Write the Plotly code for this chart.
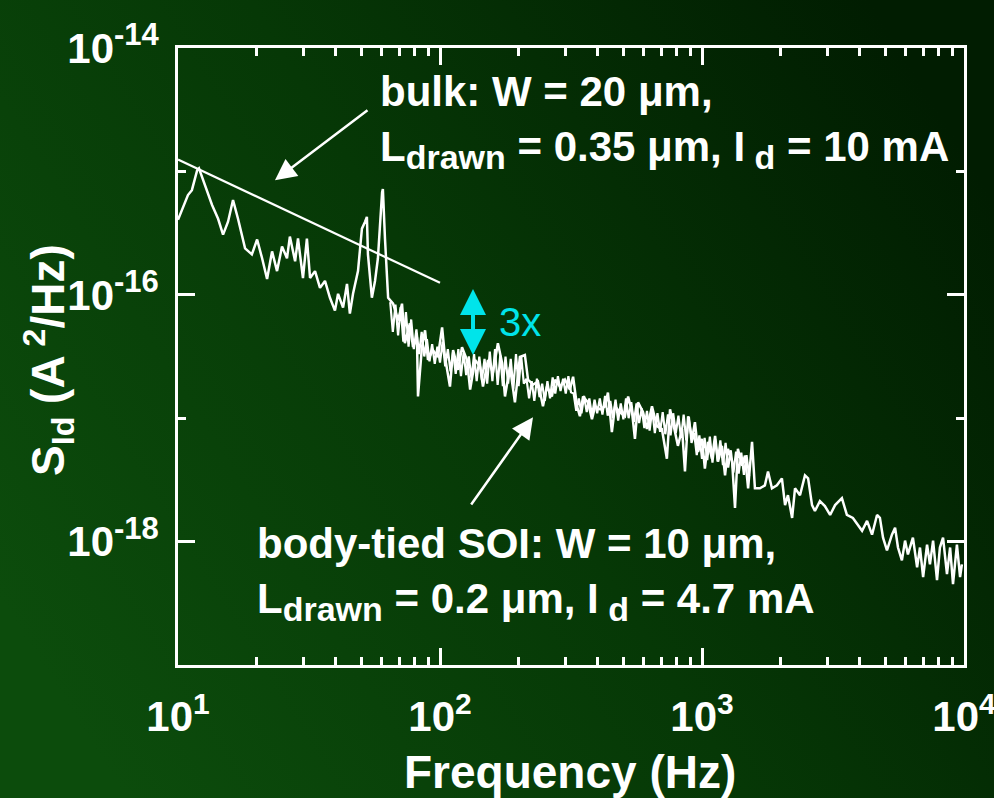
import base64
import plotly.graph_objects as go

# ---- data (log10 of frequency in Hz, log10 of S_Id in A^2/Hz) ----
# outline of the measured spectrum (incl. peaks and dips)
log_freq_hz = [
    1.000, 1.038, 1.053, 1.073, 1.080, 1.103, 1.130, 1.153, 1.172, 1.191,
    1.210, 1.229, 1.256, 1.282, 1.302, 1.321, 1.340, 1.359, 1.378, 1.397,
    1.416, 1.427, 1.447, 1.458, 1.477, 1.492, 1.504, 1.523, 1.542, 1.561,
    1.580, 1.599, 1.611, 1.630, 1.645, 1.656, 1.668, 1.687, 1.702, 1.714,
    1.721, 1.725, 1.740, 1.752, 1.763, 1.779, 1.782, 1.790, 1.802, 1.821,
    1.840, 1.855, 1.866, 1.885, 1.897, 1.912, 1.916, 1.931, 1.943, 1.954,
    1.973, 1.992, 2.008, 2.019, 2.038, 2.050, 2.069, 2.084, 2.103, 2.115,
    2.134, 2.153, 2.164, 2.183, 2.202, 2.221, 2.237, 2.248, 2.267, 2.286,
    2.305, 2.324, 2.336, 2.355, 2.374, 2.393, 2.408, 2.427, 2.439, 2.458,
    2.477, 2.496, 2.508, 2.523, 2.534, 2.546, 2.565, 2.580, 2.592, 2.611,
    2.630, 2.641, 2.656, 2.668, 2.687, 2.706, 2.718, 2.733, 2.744, 2.756,
    2.775, 2.790, 2.809, 2.828, 2.847, 2.866, 2.878, 2.897, 2.908, 2.924,
    2.935, 2.947, 2.962, 2.973, 2.985, 3.000, 3.011, 3.023, 3.038, 3.050,
    3.061, 3.076, 3.088, 3.099, 3.115, 3.126, 3.137, 3.153, 3.164, 3.176,
    3.191, 3.202, 3.221, 3.240, 3.252, 3.267, 3.286, 3.305, 3.317, 3.328,
    3.344, 3.355, 3.374, 3.393, 3.405, 3.420, 3.431, 3.450, 3.469, 3.489,
    3.508, 3.534, 3.553, 3.576, 3.595, 3.611, 3.630, 3.649, 3.668, 3.679,
    3.691, 3.706, 3.725, 3.737, 3.748, 3.763, 3.775, 3.786, 3.805, 3.821,
    3.832, 3.844, 3.859, 3.870, 3.882, 3.897, 3.908, 3.920, 3.935, 3.947,
    3.958, 3.973, 3.985, 3.992,
]
log_sid = [
    -15.392, -15.192, -15.152, -14.992, -14.976, -15.112, -15.272, -15.384, -15.512, -15.408,
    -15.232, -15.384, -15.624, -15.672, -15.552, -15.704, -15.872, -15.648, -15.808, -15.608,
    -15.704, -15.528, -15.728, -15.544, -15.864, -15.544, -15.864, -15.808, -15.944, -15.888,
    -16.024, -16.128, -15.992, -16.104, -15.912, -16.152, -15.992, -15.808, -15.464, -15.408,
    -15.368, -15.672, -16.024, -15.888, -15.704, -15.168, -15.144, -15.544, -16.024, -16.072,
    -16.208, -16.072, -16.392, -16.232, -16.424, -16.344, -16.824, -16.424, -16.288, -16.528,
    -16.448, -16.504, -16.264, -16.504, -16.744, -16.448, -16.608, -16.424, -16.528, -16.768,
    -16.528, -16.584, -16.744, -16.528, -16.632, -16.392, -16.552, -16.824, -16.584, -16.872,
    -16.504, -16.488, -16.688, -16.728, -16.704, -16.904, -16.744, -16.824, -16.688, -16.744,
    -16.688, -16.768, -16.664, -16.904, -16.984, -16.824, -16.872, -17.008, -16.904, -16.928,
    -16.904, -16.792, -17.112, -16.904, -16.952, -16.984, -16.824, -16.952, -17.168, -16.872,
    -16.952, -17.088, -16.904, -17.064, -17.088, -17.328, -16.928, -17.112, -17.224, -17.088,
    -17.432, -16.984, -17.168, -17.032, -17.272, -17.168, -17.408, -17.192, -17.328, -17.144,
    -17.352, -17.224, -17.464, -17.248, -17.352, -17.728, -17.248, -17.384, -17.304, -17.568,
    -17.192, -17.568, -17.568, -17.544, -17.432, -17.568, -17.544, -17.488, -17.704, -17.624,
    -17.808, -17.568, -17.624, -17.464, -17.488, -17.704, -17.752, -17.672, -17.712, -17.784,
    -17.704, -17.648, -17.784, -17.808, -17.864, -17.912, -17.832, -17.944, -17.784, -17.808,
    -17.968, -18.072, -17.944, -17.888, -18.048, -18.152, -17.992, -18.104, -17.968, -18.208,
    -18.048, -18.288, -18.024, -18.184, -17.992, -18.312, -18.048, -17.968, -18.264, -18.048,
    -18.344, -18.024, -18.288, -18.184,
]
# densely sampled part of the spectrum (65 Hz - 1.5 kHz), read as the upper/lower
# excursions of the dense noise band
band_log_freq_hz = [
    1.81, 1.82, 1.83, 1.84, 1.85, 1.86, 1.87, 1.88, 1.89, 1.90,
    1.91, 1.92, 1.93, 1.94, 1.95, 1.96, 1.97, 1.98, 1.99, 2.00,
    2.01, 2.02, 2.03, 2.04, 2.05, 2.06, 2.07, 2.08, 2.09, 2.10,
    2.11, 2.12, 2.13, 2.14, 2.15, 2.16, 2.17, 2.18, 2.19, 2.20,
    2.21, 2.22, 2.23, 2.24, 2.25, 2.26, 2.27, 2.28, 2.29, 2.30,
    2.31, 2.32, 2.33, 2.34, 2.35, 2.36, 2.37, 2.38, 2.39, 2.40,
    2.41, 2.42, 2.43, 2.44, 2.45, 2.46, 2.47, 2.48, 2.49, 2.50,
    2.51, 2.52, 2.53, 2.54, 2.55, 2.56, 2.57, 2.58, 2.59, 2.60,
    2.61, 2.62, 2.63, 2.64, 2.65, 2.66, 2.67, 2.68, 2.69, 2.70,
    2.71, 2.72, 2.73, 2.74, 2.75, 2.76, 2.77, 2.78, 2.79, 2.80,
    2.81, 2.82, 2.83, 2.84, 2.85, 2.86, 2.87, 2.88, 2.89, 2.90,
    2.91, 2.92, 2.93, 2.94, 2.95, 2.96, 2.97, 2.98, 2.99, 3.00,
    3.01, 3.02, 3.03, 3.04, 3.05, 3.06, 3.07, 3.08, 3.09, 3.10,
    3.11, 3.12, 3.13, 3.14, 3.15, 3.16, 3.17, 3.18,
]
band_log_sid = [
    -16.06, -16.30, -16.08, -16.33, -16.10, -16.38, -16.14, -16.42, -16.20, -16.44,
    -16.28, -16.48, -16.30, -16.50, -16.36, -16.54, -16.40, -16.56, -16.42, -16.55,
    -16.38, -16.58, -16.44, -16.62, -16.46, -16.64, -16.44, -16.66, -16.47, -16.65,
    -16.50, -16.68, -16.48, -16.70, -16.50, -16.69, -16.52, -16.72, -16.46, -16.70,
    -16.44, -16.73, -16.49, -16.74, -16.50, -16.72, -16.52, -16.76, -16.48, -16.74,
    -16.50, -16.72, -16.68, -16.84, -16.70, -16.86, -16.68, -16.83, -16.72, -16.86,
    -16.70, -16.84, -16.67, -16.80, -16.66, -16.78, -16.68, -16.80, -16.66, -16.79,
    -16.80, -16.94, -16.84, -16.96, -16.82, -16.95, -16.84, -16.98, -16.85, -16.96,
    -16.84, -16.97, -16.82, -16.98, -16.86, -17.00, -16.85, -17.02, -16.88, -17.01,
    -16.84, -17.00, -16.87, -17.03, -16.88, -17.04, -16.92, -17.08, -16.94, -17.10,
    -16.93, -17.12, -16.96, -17.11, -16.95, -17.13, -16.97, -17.14, -16.96, -17.12,
    -16.98, -17.16, -16.97, -17.18, -16.99, -17.20, -17.12, -17.30, -17.14, -17.33,
    -17.16, -17.34, -17.15, -17.36, -17.17, -17.35, -17.18, -17.38, -17.20, -17.40,
    -17.26, -17.44, -17.27, -17.45, -17.28, -17.46, -17.30, -17.47,
]

# bulk 1/f reference line (Hz, A^2/Hz)
bulk_line_freq = [10, 100]
bulk_line_sid = [1.25e-15, 1.25e-16]

x_tick_vals = [10, 100, 1000, 10000]
x_tick_exp = ["1", "2", "3", "4"]
x_minor_vals = [m * d for d in (10, 100, 1000) for m in range(2, 10)]
y_tick_vals = [1e-18, 1e-16, 1e-14]
y_tick_exp = ["-18", "-16", "-14"]
y_minor_vals = [1e-19, 1e-17, 1e-15]

freq = [10 ** v for v in log_freq_hz]
sid = [10 ** v for v in log_sid]
band_freq = [10 ** v for v in band_log_freq_hz]
band_sid = [10 ** v for v in band_log_sid]

FONT = "Liberation Sans, Arial, sans-serif"
WHITE = "#ffffff"
CYAN = "#00e4ea"


def power_label(exp, size):
    return "10<sup><span style='font-size:%dpx'>%s</span></sup>" % (size, exp)


def sub(txt, size=34):
    return "<sub><span style='font-size:%dpx'>%s</span></sub>" % (size, txt)


fig = go.Figure()
fig.add_trace(go.Scatter(x=band_freq, y=band_sid, mode="lines",
                         line=dict(color=WHITE, width=2.2), showlegend=False,
                         hoverinfo="skip"))
fig.add_trace(go.Scatter(x=freq, y=sid, mode="lines",
                         line=dict(color=WHITE, width=2.5), showlegend=False,
                         hoverinfo="skip"))
fig.add_trace(go.Scatter(x=bulk_line_freq, y=bulk_line_sid, mode="lines",
                         line=dict(color=WHITE, width=2.2), showlegend=False,
                         hoverinfo="skip"))

svg = ("<svg xmlns='http://www.w3.org/2000/svg' width='994' height='798'>"
       "<defs><linearGradient id='g' x1='0' y1='0.75' x2='1' y2='0.25'>"
       "<stop offset='0' stop-color='#0c4c0c'/>"
       "<stop offset='0.5' stop-color='#063806'/>"
       "<stop offset='1' stop-color='#011d01'/>"
       "</linearGradient></defs>"
       "<rect width='994' height='798' fill='url(#g)'/></svg>")
bg_src = "data:image/svg+xml;base64," + base64.b64encode(svg.encode()).decode()

axis_common = dict(
    showline=True, linecolor=WHITE, linewidth=2.5, mirror="ticks",
    ticks="inside", tickcolor=WHITE, tickwidth=2.5, ticklen=17,
    showgrid=False, zeroline=False, automargin=False,
    ticklabeloverflow="allow",
    tickfont=dict(family=FONT, size=42, color=WHITE, weight="bold"),
)

fig.update_layout(
    width=994, height=798,
    margin=dict(l=0, r=0, t=0, b=0, pad=0, autoexpand=False),
    paper_bgcolor="#063806", plot_bgcolor="rgba(0,0,0,0)",
    images=[dict(source=bg_src, xref="paper", yref="paper", x=0, y=1,
                 sizex=1, sizey=1, xanchor="left", yanchor="top",
                 sizing="stretch", layer="below")],
    xaxis=dict(type="log", range=[1, 4], domain=[178 / 994, 964 / 994],
               tickmode="array", tickvals=x_tick_vals,
               ticktext=[power_label(e, 30) for e in x_tick_exp],
               ticklabelstandoff=13,
               minor=dict(tickmode="array", tickvals=x_minor_vals, ticks="inside",
                          ticklen=8, tickcolor=WHITE, tickwidth=2.5, showgrid=False),
               **axis_common),
    yaxis=dict(type="log", range=[-19, -14],
               domain=[1 - 665 / 798, 1 - 48 / 798],
               tickmode="array", tickvals=y_tick_vals,
               ticktext=[power_label(e, 31) for e in y_tick_exp],
               ticklabelstandoff=8,
               minor=dict(tickmode="array", tickvals=y_minor_vals, ticks="inside",
                          ticklen=8, tickcolor=WHITE, tickwidth=2.5, showgrid=False),
               **axis_common),
    showlegend=False,
)

ann_font = dict(family=FONT, size=42, color=WHITE, weight="bold")
annotations = [
    # axis titles
    dict(text="Frequency (Hz)", xref="paper", yref="paper", x=570 / 994, y=1 - 772 / 798,
         xanchor="center", yanchor="middle", showarrow=False,
         font=dict(family=FONT, size=46, color=WHITE, weight="bold")),
    dict(text="S<sub>Id</sub> (A<sup> 2</sup>/Hz)", xref="paper", yref="paper",
         x=48 / 994, y=1 - 360 / 798, xanchor="center", yanchor="middle",
         textangle=-90, showarrow=False,
         font=dict(family=FONT, size=46, color=WHITE, weight="bold")),
    # text blocks
    dict(text="bulk: W = 20 \u03bcm,<br>L" + sub("drawn") + " = 0.35 \u03bcm, I" + sub(" d")
         + " = 10 mA",
         x=1.763, y=-14.144, xref="x", yref="y", xanchor="left", yanchor="top",
         align="left", showarrow=False, font=ann_font),
    dict(text="body-tied SOI: W = 10 \u03bcm,<br>L" + sub("drawn") + " = 0.2 \u03bcm, I"
         + sub(" d") + " = 4.7 mA",
         x=1.294, y=-17.808, xref="x", yref="y", xanchor="left", yanchor="top",
         align="left", showarrow=False, font=ann_font),
    # arrows
    dict(text="", x=1.370, y=-15.072, ax=1.729, ay=-14.496, xref="x", yref="y",
         axref="x", ayref="y", showarrow=True, arrowhead=2, arrowsize=1.7,
         arrowwidth=2.5, arrowcolor=WHITE),
    dict(text="", x=2.355, y=-16.992, ax=2.115, ay=-17.712, xref="x", yref="y",
         axref="x", ayref="y", showarrow=True, arrowhead=2, arrowsize=1.7,
         arrowwidth=2.5, arrowcolor=WHITE),
    # cyan 3x double arrow
    dict(text="", x=2.126, y=-15.952, ax=2.126, ay=-16.30, xref="x", yref="y",
         axref="x", ayref="y", showarrow=True, arrowhead=2, arrowsize=1.3,
         arrowwidth=4, arrowcolor=CYAN),
    dict(text="", x=2.126, y=-16.488, ax=2.126, ay=-16.14, xref="x", yref="y",
         axref="x", ayref="y", showarrow=True, arrowhead=2, arrowsize=1.3,
         arrowwidth=4, arrowcolor=CYAN),
    dict(text="3x", x=2.218, y=-16.224, xref="x", yref="y", xanchor="left",
         yanchor="middle", showarrow=False,
         font=dict(family=FONT, size=40, color=CYAN)),
]
fig.update_layout(annotations=annotations)

fig.write_html(
    "out.html",
    config={"displayModeBar": False},
    post_script="document.body.style.margin='0';document.body.style.overflow='hidden';",
)
